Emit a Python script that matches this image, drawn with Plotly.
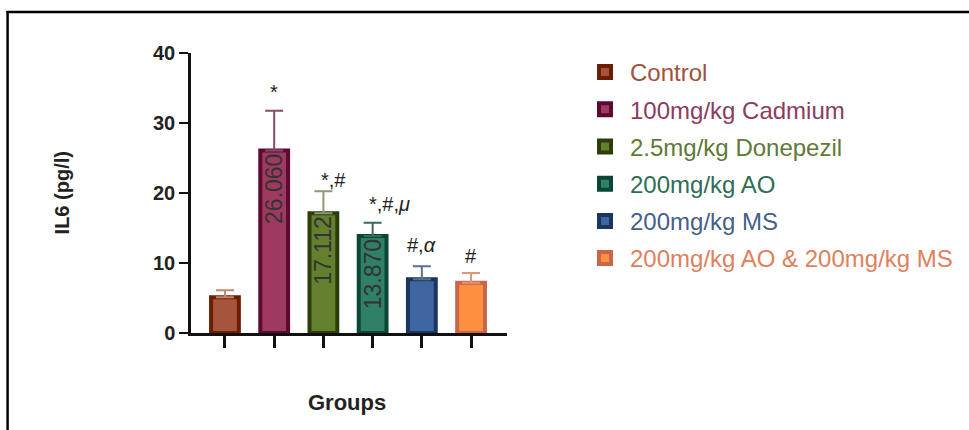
import plotly.graph_objects as go

groups = ["Control", "100mg/kg Cadmium", "2.5mg/kg Donepezil", "200mg/kg AO",
          "200mg/kg MS", "200mg/kg AO & 200mg/kg MS"]
means = [5.1, 26.06, 17.112, 13.87, 7.67, 7.19]
errors = [1.0, 5.7, 3.13, 1.89, 1.85, 1.38]
bar_labels = ["", "26.060", "17.112", "13.870", "", ""]
sig_labels = ["", "*", "*,#", "*,#,<i>μ</i>", "#,<i>α</i>", "#"]

fill_colors = ["#A5553C", "#9E3A60", "#64802F", "#2F8066", "#3F66A0", "#FF8F40"]
line_colors = ["#6E1E00", "#5C0A30", "#2B3D0A", "#0A4535", "#1C3560", "#C8664A"]
err_colors = ["#C8846C", "#8A4A6A", "#8A9A72", "#3A6A5A", "#5A7092", "#E0957A"]
legend_colors = ["#A0523A", "#8C3C60", "#5E7A35", "#2E6E55", "#45608A", "#E07F5C"]

sig_dx = [0, 0, 0.2, 0.35, 0, 0]
sig_dy = [0, 14, 6, 14, 16, 12]

FONT = "Liberation Sans, Arial"

fig = go.Figure()
for i, g in enumerate(groups):
    fig.add_trace(go.Bar(
        x=[g], y=[means[i]],
        name=f'<span style="color:{legend_colors[i]}">{g}</span>',
        legendgroup=g,
        width=0.565,
        marker=dict(color=fill_colors[i], line=dict(color=line_colors[i], width=4)),
        error_y=dict(type="data", array=[errors[i]], arrayminus=[0], symmetric=False,
                     color=err_colors[i], thickness=2, width=9),
        text=[bar_labels[i]], textposition="inside", textangle=-90,
        insidetextanchor="end", constraintext="none",
        textfont=dict(size=23, color="#333333", family=FONT),
        cliponaxis=False,
    ))

annotations = []
for i, s in enumerate(sig_labels):
    if not s:
        continue
    annotations.append(dict(
        x=i + sig_dx[i], y=means[i] + errors[i], xref="x", yref="y",
        text=s, showarrow=False, yanchor="bottom", yshift=sig_dy[i] - 8,
        font=dict(size=20, color="#222222", family=FONT),
    ))

L, R, T, B = 191, 508, 53, 333
W, H = 969, 430
pw, ph = R - L, B - T

def px(x):
    return (x - L) / pw

def py(y):
    return (B - y) / ph

annotations.append(dict(x=px(62), y=py(193), xref="paper", yref="paper", text="IL6 (pg/l)",
                        textangle=-90, showarrow=False, xanchor="center", yanchor="middle",
                        font=dict(size=20, color="#222222", family=FONT, weight="bold")))
annotations.append(dict(x=px(347), y=py(402), xref="paper", yref="paper", text="Groups",
                        showarrow=False, xanchor="center", yanchor="middle",
                        font=dict(size=22, color="#222222", family=FONT, weight="bold")))

shapes = [
    dict(type="line", xref="paper", yref="paper", x0=px(6), x1=px(975), y0=py(12), y1=py(12),
         line=dict(color="black", width=2.5)),
    dict(type="line", xref="paper", yref="paper", x0=px(7), x1=px(7), y0=py(11), y1=py(440),
         line=dict(color="black", width=2.5)),
]

fig.update_layout(
    width=W, height=H,
    margin=dict(l=L, r=W - R, t=T, b=H - B),
    paper_bgcolor="white", plot_bgcolor="white",
    barmode="overlay",
    showlegend=True,
    legend=dict(x=px(580), y=py(50), xanchor="left", yanchor="top",
                traceorder="grouped", tracegroupgap=3, maxheight=400,
                font=dict(size=24, family=FONT),
                bgcolor="rgba(0,0,0,0)", itemwidth=40),
    annotations=annotations,
    shapes=shapes,
    xaxis=dict(categoryorder="array", categoryarray=groups, range=[-0.69, 5.73],
               showticklabels=False, ticks="outside", ticklen=12, tickwidth=2.5,
               tickcolor="#111111", showline=True, linecolor="#111111", linewidth=2.5,
               showgrid=False, zeroline=False, fixedrange=True),
    yaxis=dict(range=[0, 40], tickvals=[0, 10, 20, 30, 40], ticks="outside", ticklen=9,
               tickwidth=2, tickcolor="#111111", showline=True, linecolor="#111111",
               linewidth=2.5, showgrid=False, zeroline=False,
               tickfont=dict(size=20, color="#222222", family=FONT, weight="bold")),
)

fig.write_html(
    "out.html",
    config={"displayModeBar": False},
    post_script="document.body.style.margin='0';document.body.style.overflow='hidden';"
                "document.documentElement.style.overflow='hidden';",
)
